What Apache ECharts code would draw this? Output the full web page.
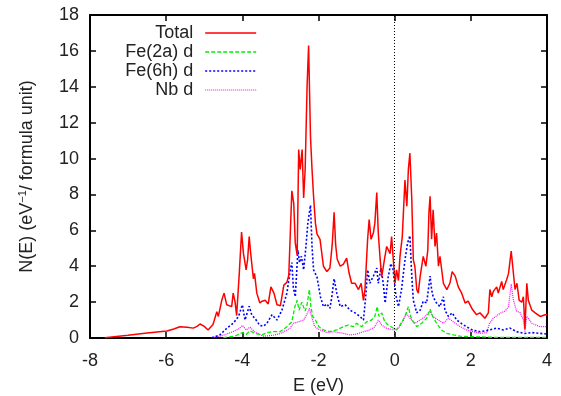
<!DOCTYPE html>
<html>
<head>
<meta charset="utf-8">
<title>DOS</title>
<script src="https://cdn.jsdelivr.net/npm/echarts@6/dist/echarts.min.js"></script>
<style>
  html, body {margin: 0; padding: 0; background: #fff;}
  #chart {width: 561px; height: 396px;}
</style>
</head>
<body>
<div id="chart"></div>
<script>
// energies (eV) and densities
var totalE = [-7.61,-7.0,-6.5,-5.98,-5.8,-5.64,-5.45,-5.29,-5.19,-5.11,-5.0,-4.9,-4.77,-4.67,-4.63,-4.54,-4.48,-4.41,-4.28,-4.24,-4.19,-4.15,-4.08,-4.02,-3.97,-3.9,-3.86,-3.82,-3.78,-3.71,-3.68,-3.62,-3.54,-3.48,-3.40,-3.32,-3.25,-3.17,-3.09,-3.0,-2.91,-2.83,-2.78,-2.74,-2.70,-2.65,-2.61,-2.56,-2.52,-2.48,-2.43,-2.39,-2.35,-2.30,-2.26,-2.21,-2.17,-2.13,-2.08,-2.04,-1.96,-1.87,-1.78,-1.70,-1.64,-1.59,-1.55,-1.51,-1.43,-1.35,-1.26,-1.20,-1.13,-1.04,-0.95,-0.88,-0.82,-0.78,-0.71,-0.67,-0.62,-0.56,-0.52,-0.47,-0.43,-0.38,-0.34,-0.27,-0.21,-0.12,-0.08,-0.04,0.01,0.05,0.10,0.14,0.20,0.27,0.32,0.36,0.40,0.45,0.49,0.53,0.58,0.62,0.67,0.75,0.82,0.87,0.90,0.93,0.97,1.01,1.06,1.10,1.15,1.19,1.28,1.37,1.45,1.51,1.59,1.67,1.76,1.85,1.93,2.04,2.15,2.24,2.28,2.37,2.46,2.50,2.55,2.59,2.68,2.72,2.81,2.85,2.90,2.94,2.99,3.06,3.10,3.16,3.21,3.27,3.34,3.38,3.42,3.47,3.51,3.60,3.69,3.82,3.95,4.0];
var totalN = [0.02,0.15,0.28,0.39,0.5,0.63,0.6,0.55,0.65,0.78,0.65,0.45,0.75,1.47,1.2,2.1,2.5,1.85,1.75,2.5,2.0,1.25,3.6,5.9,4.7,3.8,4.4,5.65,4.7,3.3,3.6,2.5,1.95,2.05,2.1,1.9,2.85,2.5,1.85,1.8,2.95,3.1,3.5,5.85,8.2,7.5,5.3,4.6,10.5,9.4,10.5,7.8,9.4,14.0,16.3,11.2,9.4,7.9,6.4,5.8,5.5,4.0,3.7,3.9,5.2,7.0,5.2,4.4,4.0,4.1,4.45,3.65,3.05,3.05,2.7,3.05,2.1,2.7,5.5,6.6,5.5,5.85,6.4,8.1,5.85,4.35,3.4,4.35,5.1,4.7,5.65,5.75,3.05,3.8,3.2,4.55,5.65,8.8,7.35,9.4,10.3,7.7,4.35,4.0,2.7,2.5,3.45,4.55,4.0,4.9,7.0,7.9,5.5,7.15,5.1,5.85,4.0,4.55,3.05,2.7,3.05,3.7,3.45,2.85,2.5,1.95,2.05,1.6,1.3,1.4,1.45,1.1,1.4,2.7,2.3,2.6,2.85,2.5,3.15,2.7,2.8,3.25,3.6,4.85,4.0,2.7,3.05,2.1,2.0,2.3,0.5,3.05,2.1,1.55,1.4,1.2,1.3,1.3];

var fe2aE = [-4.5,-4.2,-4.0,-3.9,-3.8,-3.65,-3.48,-3.35,-3.22,-3.01,-2.83,-2.70,-2.62,-2.56,-2.51,-2.44,-2.35,-2.30,-2.24,-2.20,-2.15,-2.08,-1.99,-1.87,-1.70,-1.52,-1.35,-1.22,-1.09,-1.00,-0.87,-0.74,-0.61,-0.52,-0.46,-0.41,-0.34,-0.26,-0.17,-0.03,0.05,0.14,0.27,0.36,0.42,0.49,0.58,0.71,0.84,0.93,1.0,1.10,1.23,1.37,1.54,1.72,2.07,2.6,4.0];
var fe2aN = [0.02,0.1,0.3,0.2,0.4,0.25,0.17,0.3,0.35,0.35,0.63,0.9,1.75,2.1,1.55,2.0,1.5,1.85,2.7,1.75,1.2,1.0,0.63,0.45,0.35,0.45,0.63,0.72,0.63,0.82,0.63,0.9,1.0,1.2,1.75,1.2,1.4,0.9,0.72,0.54,0.45,0.72,1.2,1.75,1.2,0.9,0.63,0.82,1.1,1.6,1.2,0.82,0.45,0.26,0.17,0.1,0.07,0.04,0.04];

var fe6hE = [-4.8,-4.6,-4.41,-4.24,-4.1,-4.0,-3.93,-3.82,-3.75,-3.67,-3.54,-3.45,-3.36,-3.22,-3.09,-2.96,-2.83,-2.74,-2.70,-2.66,-2.61,-2.54,-2.50,-2.45,-2.39,-2.33,-2.28,-2.21,-2.17,-2.13,-2.04,-1.95,-1.87,-1.78,-1.70,-1.65,-1.59,-1.52,-1.43,-1.30,-1.17,-1.04,-0.91,-0.82,-0.76,-0.71,-0.65,-0.56,-0.47,-0.43,-0.36,-0.30,-0.25,-0.17,-0.10,-0.04,0.03,0.10,0.18,0.27,0.34,0.40,0.45,0.49,0.58,0.67,0.75,0.84,0.93,0.97,1.01,1.10,1.19,1.28,1.32,1.41,1.51,1.63,1.76,1.89,2.04,2.24,2.50,2.68,2.85,3.03,3.2,3.42,3.6,4.0];
var fe6hN = [0.02,0.15,0.54,0.82,1.2,1.85,1.0,1.77,1.27,1.1,0.7,0.65,0.8,1.3,1.0,1.55,2.5,3.8,4.2,2.8,2.3,4.9,4.2,4.55,3.8,5.1,6.4,7.4,5.1,3.8,3.4,2.3,1.75,1.9,1.65,2.3,3.3,2.5,1.75,1.85,1.55,1.4,1.2,1.0,2.3,3.8,3.05,3.45,3.9,3.05,3.9,3.05,1.95,3.4,4.15,3.8,2.4,1.75,2.7,4.35,5.3,5.7,3.45,2.1,1.4,1.55,2.05,1.95,3.45,2.7,2.3,1.95,1.75,2.3,1.55,1.2,1.4,1.0,0.8,0.62,0.45,0.35,0.45,0.55,0.45,0.55,0.35,0.25,0.3,0.22];

var nbE = [-4.8,-4.5,-4.25,-4.1,-4.0,-3.9,-3.8,-3.65,-3.45,-3.2,-3.0,-2.75,-2.66,-2.53,-2.39,-2.29,-2.24,-2.18,-2.10,-1.96,-1.78,-1.61,-1.35,-1.17,-1.0,-0.82,-0.65,-0.52,-0.43,-0.34,-0.21,-0.03,0.1,0.23,0.31,0.40,0.53,0.67,0.80,0.93,1.0,1.15,1.28,1.41,1.54,1.72,1.89,2.07,2.24,2.42,2.49,2.59,2.77,2.90,2.99,3.06,3.12,3.2,3.3,3.38,3.42,3.47,3.60,3.82,4.0];
var nbN = [0.02,0.15,0.35,0.5,0.7,0.45,0.6,0.3,0.1,0.15,0.25,0.54,0.82,0.9,1.0,1.38,1.66,1.2,0.63,0.45,0.3,0.35,0.26,0.17,0.22,0.35,0.45,0.63,1.0,0.72,0.54,0.45,0.54,1.0,1.38,1.1,0.82,1.0,1.2,1.5,1.2,1.0,0.82,1.1,0.9,0.63,0.45,0.35,0.26,0.3,0.82,1.1,1.38,1.5,1.75,3.0,2.1,1.5,1.4,1.0,0.35,1.2,0.82,0.63,0.63];

var seriesNames = ['Total', 'Fe(2a) d', 'Fe(6h) d', 'Nb d'];
var seriesColors = ['#ff0000', '#00ee00', '#0000ff', '#ff00ff'];
var seriesDash = ['solid', [4, 2], [2, 2], [1, 1]];
var seriesWidth = [1.5, 1.3, 1.6, 1.2];

function pairs(xs, ys) {
  return xs.map(function (x, i) { return [x, ys[i]]; });
}

var chart = echarts.init(document.getElementById('chart'), null, {renderer: 'canvas'});
var font = 'Liberation Sans, Arial, Helvetica, sans-serif';

var xBase = {
  type: 'value', min: -8, max: 4, interval: 2,
  axisLine: {show: true, onZero: false, lineStyle: {color: '#000', width: 2}},
  axisTick: {show: true, inside: true, length: 6, lineStyle: {color: '#000', width: 1.5}},
  splitLine: {show: false}
};
var yBase = {
  type: 'value', min: 0, max: 18, interval: 2,
  axisLine: {show: true, onZero: false, lineStyle: {color: '#000', width: 2}},
  axisTick: {show: true, inside: true, length: 6, lineStyle: {color: '#000', width: 1.5}},
  splitLine: {show: false}
};

var allData = [pairs(totalE, totalN), pairs(fe2aE, fe2aN), pairs(fe6hE, fe6hN), pairs(nbE, nbN)];

var series = seriesNames.map(function (name, i) {
  var s = {
    name: name, type: 'line', symbol: 'none', data: allData[i],
    lineStyle: {color: seriesColors[i], width: seriesWidth[i], type: seriesDash[i]},
    itemStyle: {color: seriesColors[i]},
    z: i === 0 ? 4 : (i === 3 ? 2 : 3)
  };
  if (i === 0) {
    // Fermi level
    s.markLine = {
      silent: true, symbol: 'none', label: {show: false},
      lineStyle: {color: '#000', width: 1, type: [1, 2]},
      data: [{xAxis: 0}]
    };
  }
  return s;
});

chart.setOption({
  animation: false,
  backgroundColor: '#fff',
  grid: {left: 90, right: 14, top: 15, bottom: 58, containLabel: false, outerBoundsMode: 'none'},
  legend: {
    orient: 'vertical', align: 'right', right: 299, top: 19,
    itemWidth: 51, itemHeight: 12, itemGap: 1,
    data: seriesNames.map(function (name, i) {
      return {name: name, lineStyle: {color: seriesColors[i], width: seriesWidth[i], type: seriesDash[i]}};
    }),
    itemStyle: {opacity: 0},
    textStyle: {fontFamily: font, fontSize: 18, color: '#222', lineHeight: 18, padding: [0, 7, 0, 0]}
  },
  xAxis: [
    Object.assign({}, xBase, {
      position: 'bottom',
      name: 'E (eV)', nameLocation: 'middle', nameGap: 39,
      nameTextStyle: {fontFamily: font, fontSize: 18, color: '#222'},
      axisLabel: {margin: 14, fontFamily: font, fontSize: 18, color: '#222'}
    }),
    Object.assign({}, xBase, {position: 'top', axisLabel: {show: false}})
  ],
  yAxis: [
    Object.assign({}, yBase, {
      position: 'left',
      name: 'N(E) (eV{sup|\u22121}/ formula unit)', nameLocation: 'middle', nameGap: 53,
      nameTextStyle: {fontFamily: font, fontSize: 18, color: '#222',
        rich: {sup: {fontFamily: font, fontSize: 11, color: '#222', verticalAlign: 'top', padding: [0, 0, 9, 0]}}},
      axisLabel: {margin: 11, fontFamily: font, fontSize: 18, color: '#222'}
    }),
    Object.assign({}, yBase, {position: 'right', axisLabel: {show: false}})
  ],
  series: series
});

window.onresize = chart.resize;
</script>
</body>
</html>
